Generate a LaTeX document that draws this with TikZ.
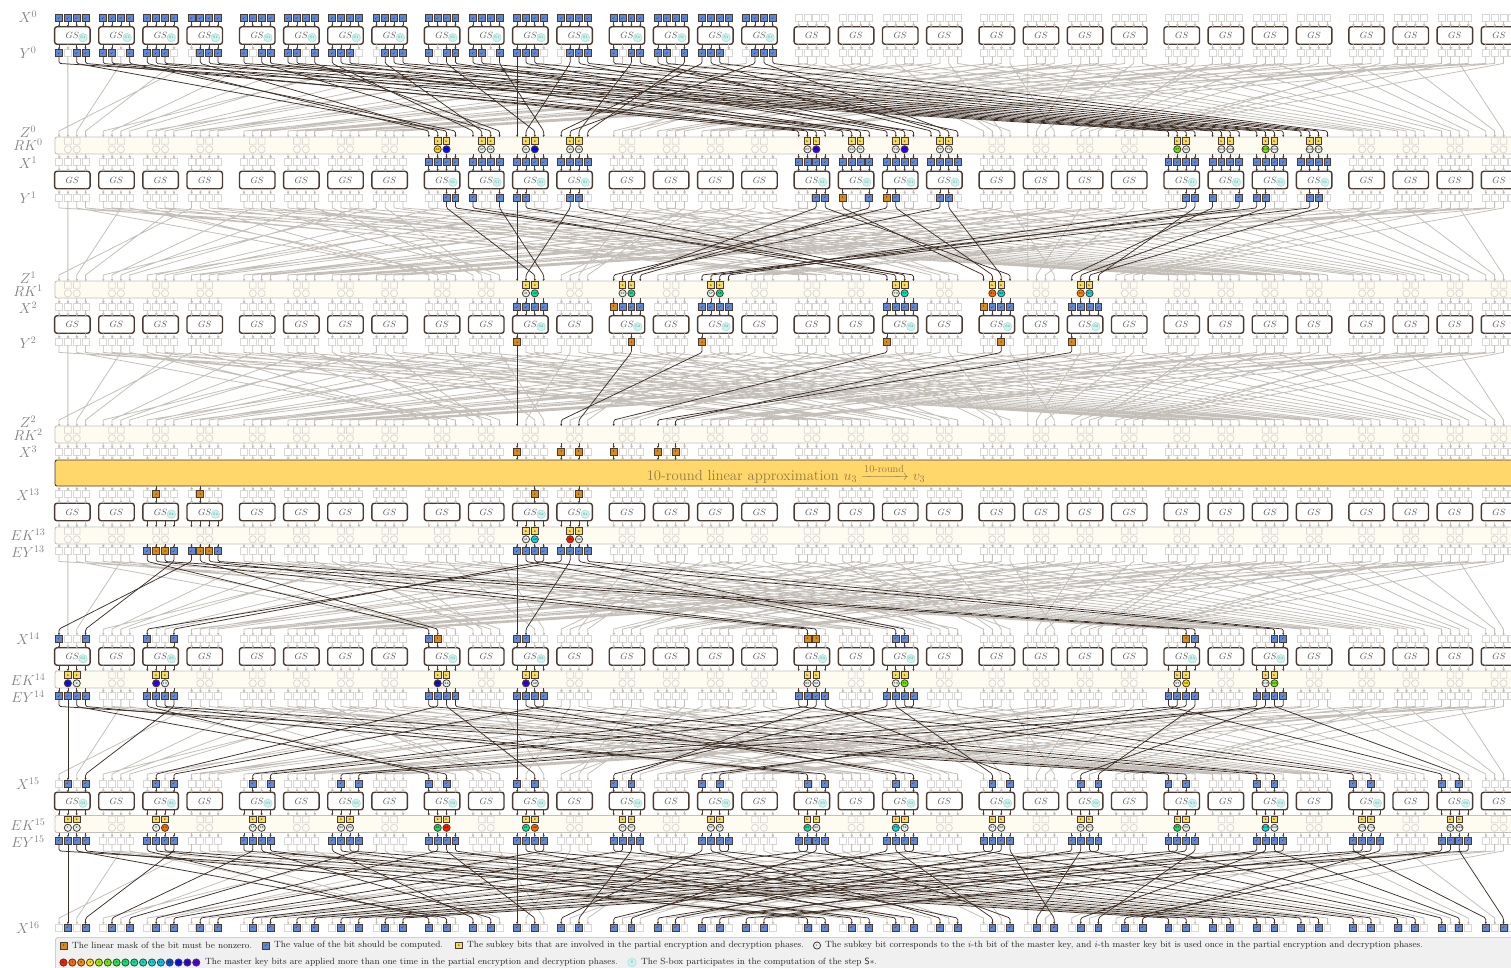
\documentclass[tikz,border=0pt]{standalone}
\usepackage{amsmath,amssymb}
\usepackage{xcolor}
\usepackage{tikz}
\usetikzlibrary{arrows.meta, calc}

\definecolor{boxdark}{HTML}{4B3A2F}
\definecolor{wiredark}{HTML}{3C2E25}
\definecolor{wireoff}{HTML}{C4C0B9}
\definecolor{bitoff}{HTML}{DAD8D4}
\definecolor{bitblue}{HTML}{5F88D8}
\definecolor{bitorange}{HTML}{D98A18}
\definecolor{keyyellow}{HTML}{F8DC60}
\definecolor{keywhite}{HTML}{E2F4F0}
\definecolor{bandfill}{HTML}{FEFCF0}
\definecolor{bigfill}{HTML}{FFD76A}
\definecolor{bigtext}{HTML}{8F7D4C}
\definecolor{stepfill}{HTML}{CFF3EE}
\definecolor{stepline}{HTML}{A6DDD8}
\definecolor{steptext}{HTML}{3E8F8A}
\definecolor{kRed}{HTML}{FF1A00}
\definecolor{kOrangeA}{HTML}{FF6A00}
\definecolor{kOrangeB}{HTML}{FF8C00}
\definecolor{kYellow}{HTML}{FFE000}
\definecolor{kLime}{HTML}{99F000}
\definecolor{kGreenA}{HTML}{66F000}
\definecolor{kGreenB}{HTML}{20EC4A}
\definecolor{kGreenC}{HTML}{00E870}
\definecolor{kTealA}{HTML}{00E8A0}
\definecolor{kTealB}{HTML}{00E4C0}
\definecolor{kCyan}{HTML}{00E0EC}
\definecolor{kSky}{HTML}{00C8F0}
\definecolor{kBlueA}{HTML}{0050F0}
\definecolor{kBlueB}{HTML}{0010F0}
\definecolor{kIndigo}{HTML}{3000F0}
\definecolor{kViolet}{HTML}{4A00E8}

\tikzset{
  tinytext/.style = {font=\fontsize{3}{3}\selectfont},
  bitghost/.style = {rectangle, minimum size=6.9pt, inner sep=0pt, outer sep=0pt},
  bitline/.style = {draw=bitoff, line width=.8pt},
  bit1/.style = {rectangle, draw=boxdark, fill=bitblue, line width=.8pt, minimum size=6.9pt,
                 inner sep=0pt, outer sep=0pt, tinytext, text=black},
  bit2/.style = {rectangle, draw=boxdark, fill=bitorange, line width=.8pt, minimum size=6.9pt,
                 inner sep=0pt, outer sep=0pt, tinytext, text=black},
  gsbox/.style = {rectangle, draw=boxdark, fill=white, line width=1.4pt, rounded corners=2.5pt,
                  minimum width=35.5pt, minimum height=17.5pt, inner sep=0pt, outer sep=0pt,
                  font=\fontsize{9}{9}\selectfont, text=black!65},
  stepmark/.style = {circle, draw=stepline, fill=stepfill, line width=.5pt,
                     minimum size=8.5pt, inner sep=0pt, font=\fontsize{3.5}{3.5}\selectfont, text=steptext},
  band/.style = {rectangle, draw=wireoff, fill=bandfill, line width=.9pt, rounded corners=2pt,
                 minimum width=1500pt, minimum height=17pt, outer sep=0pt},
  keyon/.style = {rectangle, draw=boxdark, fill=keyyellow, line width=.8pt, minimum size=6.6pt,
                  inner sep=0pt, tinytext, text=black},
  ringon/.style = {circle, draw=boxdark, line width=.8pt, minimum size=7.2pt,
                   inner sep=0pt, tinytext, text=black},
  offbatch/.style = {draw=wireoff, fill=wireoff, line width=.7pt},
  wirebatch/.style = {draw=wireoff, line width=.8pt, line join=round},
  stub1/.style = {draw=boxdark, line width=.7pt, -{Stealth[length=2.2pt,width=2.2pt]}},
  wire1/.style = {draw=wiredark, line width=.75pt, rounded corners=1.5pt, -{Stealth[length=2.2pt,width=2.2pt]}},
  rowlabel/.style = {font=\fontsize{14}{14}\selectfont, text=gray, inner sep=0pt},
  legendtext/.style = {anchor=west, inner sep=0pt, font=\fontsize{9.05}{10}\selectfont, text=black!85},
}

%% bit table and positions
\def\permlist{0,33,66,99,96,1,34,67,64,97,2,35,32,65,98,3,4,37,70,103,100,5,38,71,68,101,6,39,36,69,102,7,
8,41,74,107,104,9,42,75,72,105,10,43,40,73,106,11,12,45,78,111,108,13,46,79,76,109,14,47,44,77,110,15,
16,49,82,115,112,17,50,83,80,113,18,51,48,81,114,19,20,53,86,119,116,21,54,87,84,117,22,55,52,85,118,23,
24,57,90,123,120,25,58,91,88,121,26,59,56,89,122,27,28,61,94,127,124,29,62,95,92,125,30,63,60,93,126,31}
\foreach \v [count=\i from 0] in \permlist {\expandafter\xdef\csname pm:\i\endcsname{\v}}
\foreach \q in {0,...,127} {\expandafter\xdef\csname dst:\q\endcsname
  {\the\numexpr127-\csname pm:\the\numexpr127-\q\relax\endcsname\relax}}
\newcommand*{\dst}[1]{\csname dst:\number#1\endcsname}
\foreach \n in {0,...,31} {
  \pgfmathtruncatemacro\na{\n/4}
  \pgfmathsetmacro\v{72.3+44.15*(\n-4*\na)+184.9*\na}
  \expandafter\xdef\csname nx:\n\endcsname{\v}
  \foreach \p in {0,...,3} {
    \pgfmathsetmacro\w{\v+(\p-1.5)*8.85}
    \expandafter\xdef\csname bx:\the\numexpr4*\n+\p\relax\endcsname{\w}
  }
}
\newcommand*{\bx}[1]{\csname bx:\number#1\endcsname}
\newcommand*{\nx}[1]{\csname nx:\number#1\endcsname}

%% state of the bits: 0 unused, 1 computed, 2 mask
\newcommand*{\setbit}[3]{\expandafter\xdef\csname bit:#1:\number#2\endcsname{#3}}
\newcommand*{\getbit}[2]{\ifcsname bit:#1:\number#2\endcsname\csname bit:#1:\number#2\endcsname\else0\fi}
\newcommand*{\setnib}[3]{\foreach \p in {0,...,3} {\setbit{#1}{\numexpr4*#2+\p\relax}{#3}}}
\newcommand*{\backbits}[2]{\foreach \q in {0,...,127} {\setbit{#1}{\q}{\getbit{#2}{\dst{\q}}}}}
\newcommand*{\fwdbits}[2]{\foreach \q in {0,...,127} {\setbit{#2}{\dst{\q}}{\getbit{#1}{\q}}}}
\newcommand*{\fillbits}[2]{\foreach \q in {0,...,127} {
    \ifnum\getbit{#1}{\q}>0 \pgfmathtruncatemacro\n{\q/4}\setnib{#2}{\n}{1}\fi}}
\newcommand*{\setkey}[4]{\expandafter\xdef\csname key:#1:#2:1\endcsname{#3}%
  \expandafter\xdef\csname key:#1:#2:2\endcsname{#4}}

\foreach \n in {0,...,15} {\setnib{x0}{\n}{1}}
\foreach \n in {8,9,10,11,16,17,18,19,24,25,26,27} {\setnib{x1}{\n}{1}}
\foreach \n in {10,12,14,18,20,22} {\setnib{x2}{\n}{1}}
\setbit{x2}{48}{2} \setbit{x2}{80}{2}
\foreach \q in {40,50,56,72,82,88} {\setbit{y2}{\q}{2}}
\foreach \q in {9,13,42,46} {\setbit{x13}{\q}{2}}
\foreach \n in {2,3,10,11} {\setnib{ey13}{\n}{1}}
\foreach \q in {9,10,13,14} {\setbit{ey13}{\q}{2}}
\backbits{y0}{x1}
\backbits{y1}{x2}
\fwdbits{y2}{x3}
\fwdbits{ey13}{x14}
\fillbits{x14}{ey14}
\fwdbits{ey14}{x15}
\fillbits{x15}{ey15}
\fwdbits{ey15}{x16}

%% master key bits in the bands
\setkey{rk0}{8}{kYellow}{kBlueB}   \setkey{rk0}{9}{keywhite}{keywhite}
\setkey{rk0}{10}{keywhite}{kBlueB} \setkey{rk0}{11}{keywhite}{keywhite}
\setkey{rk0}{16}{keywhite}{kIndigo} \setkey{rk0}{17}{keywhite}{keywhite}
\setkey{rk0}{18}{keywhite}{kIndigo} \setkey{rk0}{19}{keywhite}{keywhite}
\setkey{rk0}{24}{kGreenA}{keywhite} \setkey{rk0}{25}{keywhite}{keywhite}
\setkey{rk0}{26}{kGreenA}{keywhite} \setkey{rk0}{27}{keywhite}{keywhite}
\setkey{rk1}{10}{keywhite}{kTealA} \setkey{rk1}{12}{keywhite}{kTealA}
\setkey{rk1}{14}{keywhite}{kTealA} \setkey{rk1}{18}{keywhite}{kTealB}
\setkey{rk1}{20}{kOrangeA}{kCyan}  \setkey{rk1}{22}{kOrangeB}{kCyan}
\setkey{ek13}{10}{keywhite}{kCyan} \setkey{ek13}{11}{kRed}{keywhite}
\setkey{ek14}{0}{kBlueB}{keywhite} \setkey{ek14}{2}{kIndigo}{keywhite}
\setkey{ek14}{8}{kBlueB}{keywhite} \setkey{ek14}{10}{kIndigo}{keywhite}
\setkey{ek14}{16}{keywhite}{keywhite} \setkey{ek14}{18}{keywhite}{kGreenA}
\setkey{ek14}{24}{keywhite}{kYellow} \setkey{ek14}{26}{keywhite}{kGreenA}
\setkey{ek15}{0}{keywhite}{keywhite} \setkey{ek15}{2}{keywhite}{kOrangeA}
\setkey{ek15}{4}{keywhite}{keywhite} \setkey{ek15}{6}{keywhite}{keywhite}
\setkey{ek15}{8}{kGreenC}{kRed}    \setkey{ek15}{10}{kTealA}{kOrangeA}
\setkey{ek15}{12}{keywhite}{keywhite} \setkey{ek15}{14}{keywhite}{keywhite}
\setkey{ek15}{16}{kTealA}{keywhite} \setkey{ek15}{18}{kCyan}{keywhite}
\setkey{ek15}{20}{keywhite}{keywhite} \setkey{ek15}{22}{keywhite}{keywhite}
\setkey{ek15}{24}{kGreenC}{keywhite} \setkey{ek15}{26}{kCyan}{keywhite}
\setkey{ek15}{28}{keywhite}{keywhite} \setkey{ek15}{30}{keywhite}{keywhite}

%% drawing macros: the unused parts go in one path per row
\newcommand*{\bitrow}[2]{\gdef\offpath{}\foreach \q in {0,...,127} {
    \edef\s{\getbit{#1}{\q}}\edef\xx{\bx{\q}}
    \ifnum\s=0
      \node[bitghost] (#1-\q) at (\xx,#2) {};
      \xdef\offpath{\offpath (#1-\q.south west) rectangle (#1-\q.north east)}
    \else
      \node[bit\s] (#1-\q) at (\xx,#2) {\ifnum\s=1 $\checkmark$\else 1\fi};
    \fi
  }
  \draw[bitline] \offpath;}
\newcommand*{\gsrow}[4]{\foreach \n in {0,...,31} {
    \edef\xx{\nx{\n}}
    \node[gsbox] (#2-\n) at (\xx,#3) {$GS$};
    \ifnum\numexpr\getbit{#1}{\numexpr4*\n}+\getbit{#1}{\numexpr4*\n+1}+\getbit{#1}{\numexpr4*\n+2}+\getbit{#1}{\numexpr4*\n+3}\relax>0
      \node[stepmark] (#2-\n-s) at (\xx+10.7,#3+2.2) {#4};
    \fi
  }}
\newcommand*{\stubrow}[3]{\gdef\offpath{}\foreach \q in {0,...,127} {
    \pgfmathtruncatemacro\n{\q/4}
    \ifnum\getbit{#1}{\q}>0
      \draw[stub1] (#2) -- (#3);
    \else
      \xdef\offpath{\offpath (#2) -- (#3) ++(-1,-2) -- ++(2,0) -- ++(-1,2)}
    \fi
  }
  \filldraw[offbatch] \offpath;}
\newcommand*{\keyband}[2]{
  \gdef\offpath{}
  \node[band] (#1) at (805,#2) {};
  \foreach \n in {0,...,31} {
    \foreach \k in {1,2} {
      \edef\qq{\the\numexpr4*\n+\k\relax}\edef\xx{\bx{\qq}}
      \ifcsname key:#1:\n:\k\endcsname
        \edef\col{\csname key:#1:\n:\k\endcsname}
        \node[keyon] (#1-k\qq) at (\xx,#2-4.5) {k};
        \node[ringon, fill=\col] (#1-c\qq) at (\xx,#2+3.8) {\qq};
      \else
        \xdef\offpath{\offpath (\xx-3.3,#2-7.8) rectangle ++(6.6,6.6) (\xx,#2+3.8) circle[radius=3.6]}
      \fi
    }
  }
  \draw[bitline] \offpath;}
\newcommand*{\wirelayer}[3]{\gdef\offpath{}\foreach \q in {0,...,127} {
      \edef\d{\dst{\q}}
      \ifnum\getbit{#1}{\q}=0
        \xdef\offpath{\offpath (#1-\q.south) -- ++(0,7) -- ($(#2-\d.north |- #3)+(0,-6)$) -- (#2-\d.north |- #3) ++(-.8,-1.6) -- ++(1.6,0) -- ++(-.8,1.6)}
      \fi
    }
  \draw[wirebatch] \offpath;
  \foreach \q in {0,...,127} {
      \edef\d{\dst{\q}}
      \ifnum\getbit{#1}{\q}>0
        \draw[wire1] (#1-\q.south) -- ++(0,7) -- ($(#2-\d.north |- #3)+(0,-6)$) -- (#2-\d.north |- #3);
      \fi
    }}

\begin{document}
\begin{tikzpicture}[x=1pt, y=-1pt]
    \path[use as bounding box, clip] (0,0) rectangle (1511,968);

    %% ===================== ROUND 0 TO 2 =====================
    \keyband{rk0}{145.5}
    \keyband{rk1}{289.5}
    \keyband{rk2}{434.5}

    \bitrow{x0}{18}
    \gsrow{x0}{gs0}{35.5}{S1}
    \bitrow{y0}{53}
    \bitrow{x1}{162}
    \gsrow{x1}{gs1}{180}{S1}
    \bitrow{y1}{197.5}
    \bitrow{x2}{307}
    \gsrow{x2}{gs2}{324.5}{S2}
    \bitrow{y2}{342}
    \bitrow{x3}{451.5}

    \stubrow{x0}{x0-\q.south}{x0-\q.south |- gs0-\n.north}
    \stubrow{y0}{y0-\q.north |- gs0-\n.south}{y0-\q.north}
    \stubrow{x1}{x1-\q.north |- rk0.south}{x1-\q.north}
    \stubrow{x1}{x1-\q.south}{x1-\q.south |- gs1-\n.north}
    \stubrow{y1}{y1-\q.north |- gs1-\n.south}{y1-\q.north}
    \stubrow{x2}{x2-\q.north |- rk1.south}{x2-\q.north}
    \stubrow{x2}{x2-\q.south}{x2-\q.south |- gs2-\n.north}
    \stubrow{y2}{y2-\q.north |- gs2-\n.south}{y2-\q.north}
    \stubrow{x3}{x3-\q.north |- rk2.south}{x3-\q.north}

    \wirelayer{y0}{x1}{rk0.north}
    \wirelayer{y1}{x2}{rk1.north}
    \wirelayer{y2}{x3}{rk2.north}

    %% ===================== LINEAR APPROXIMATION =====================
    \node[rectangle, draw=boxdark, fill=bigfill, line width=.9pt, rounded corners=2pt,
          minimum width=1500pt, minimum height=26pt, anchor=west, outer sep=0pt] (approx) at (55,473) {};
    \node[font=\fontsize{14.7}{15}\selectfont, text=bigtext] (approxtext) at (786,473.5)
         {10-round linear approximation $u_3 \xrightarrow{\text{10-round}} v_3$};
    \stubrow{x3}{x3-\q.south}{x3-\q.south |- approx.north}

    %% ===================== ROUND 13 TO 16 =====================
    \keyband{ek13}{535.5}
    \keyband{ek14}{679.5}
    \keyband{ek15}{824}

    \bitrow{x13}{494}
    \gsrow{x13}{gs13}{512}{S4}
    \bitrow{ey13}{551}
    \bitrow{x14}{638.5}
    \gsrow{x14}{gs14}{656.5}{S3}
    \bitrow{ey14}{696}
    \bitrow{x15}{783.5}
    \gsrow{x15}{gs15}{801}{S3}
    \bitrow{ey15}{840.5}
    \bitrow{x16}{927.5}

    \stubrow{x13}{x13-\q.north |- approx.south}{x13-\q.north}
    \stubrow{x13}{x13-\q.south}{x13-\q.south |- gs13-\n.north}
    \stubrow{ey13}{ey13-\q.north |- gs13-\n.south}{ey13-\q.north |- ek13.north}
    \stubrow{ey13}{ey13-\q.north |- ek13.south}{ey13-\q.north}
    \stubrow{x14}{x14-\q.south}{x14-\q.south |- gs14-\n.north}
    \stubrow{ey14}{ey14-\q.north |- gs14-\n.south}{ey14-\q.north |- ek14.north}
    \stubrow{ey14}{ey14-\q.north |- ek14.south}{ey14-\q.north}
    \stubrow{x15}{x15-\q.south}{x15-\q.south |- gs15-\n.north}
    \stubrow{ey15}{ey15-\q.north |- gs15-\n.south}{ey15-\q.north |- ek15.north}
    \stubrow{ey15}{ey15-\q.north |- ek15.south}{ey15-\q.north}

    \wirelayer{ey13}{x14}{x14-0.north}
    \wirelayer{ey14}{x15}{x15-0.north}
    \wirelayer{ey15}{x16}{x16-0.north}

    %% ===================== ROW LABELS =====================
    \foreach \nm/\yy [count=\i] in {X^{0}/17, Y^{0}/53, Z^{0}/132, RK^{0}/145, X^{1}/163, Y^{1}/198,
        Z^{1}/278, RK^{1}/291, X^{2}/308, Y^{2}/343, Z^{2}/422, RK^{2}/435, X^{3}/452, X^{13}/495,
        EK^{13}/535, EY^{13}/552, X^{14}/639, EK^{14}/680, EY^{14}/697, X^{15}/784, EK^{15}/825,
        EY^{15}/842, X^{16}/928}
      \node[rowlabel] (lab\i) at (28,\yy) {$\nm$};

    %% ===================== LEGEND =====================
    \node[rectangle, draw=gray!50, fill=gray!12, rounded corners=3pt, line width=.7pt,
          minimum width=1500pt, minimum height=50pt, anchor=north west] (legend) at (55,937) {};

    \node[bit2] (legA) at (64,945.5) {1};
    \node[legendtext] (legAt) at (72,945.5) {The linear mask of the bit must be nonzero.};
    \node[bit1] (legB) at (266,945.5) {$\checkmark$};
    \node[legendtext] (legBt) at (274,945.5) {The value of the bit should be computed.};
    \node[keyon] (legC) at (459,945.5) {k};
    \node[legendtext] (legCt) at (467,945.5) {The subkey bits that are involved in the partial encryption and decryption phases.};
    \node[ringon, fill=keywhite] (legD) at (817,945.5) {i};
    \node[legendtext] (legDt) at (825,945.5) {The subkey bit corresponds to the $i$-th bit of the master key, and $i$-th master key bit is used once in the partial encryption and decryption phases.};

    \foreach \col [count=\i from 0] in {kRed,kOrangeA,kOrangeB,kYellow,kLime,kGreenA,kGreenB,kGreenC,
        kTealA,kTealB,kCyan,kSky,kBlueA,kBlueB,kIndigo,kViolet}
      \node[ringon, fill=\col] (legM\i) at (63.5+\i*8.85,962.5) {\i};
    \node[legendtext] (legMt) at (205,962.5) {The master key bits are applied more than one time in the partial encryption and decryption phases.};
    \node[stepmark] (legS) at (632,962.5) {S};
    \node[legendtext] (legSt) at (641,962.5) {The S-box participates in the computation of the step $\mathsf{S}\ast$.};

  \end{tikzpicture}
\end{document}
